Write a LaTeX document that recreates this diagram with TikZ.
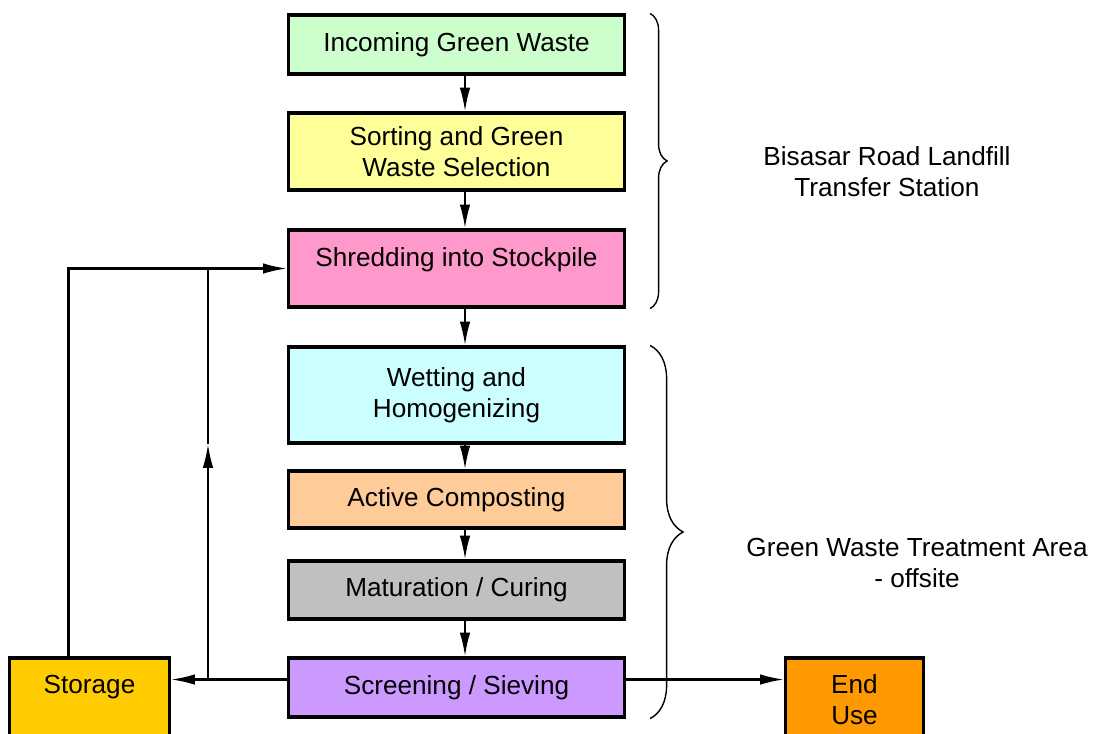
\documentclass[tikz,border=0pt]{standalone}
\usepackage{fontspec}
\setmainfont{Liberation Sans}
\usetikzlibrary{arrows.meta,calc,decorations.pathreplacing}
\tikzset{>={Latex[length=17pt,width=7.5pt]}}
\definecolor{cIncoming}{HTML}{CCFFCC}
\definecolor{cSorting}{HTML}{FFFF99}
\definecolor{cShred}{HTML}{FF99CC}
\definecolor{cWet}{HTML}{CCFFFF}
\definecolor{cActive}{HTML}{FFCC99}
\definecolor{cMature}{HTML}{C0C0C0}
\definecolor{cScreen}{HTML}{CC99FF}
\definecolor{cStorage}{HTML}{FFCC00}
\definecolor{cEnd}{HTML}{FF9900}
\tikzstyle{stage}=[rectangle,draw=black,line width=2.2pt,minimum width=8.4cm,align=center,font=\fontsize{18.6}{22}\selectfont]
\tikzstyle{flow}=[->,line width=1.5pt]
\tikzstyle{group}=[decorate,line width=1pt]
\tikzstyle{note}=[align=center,font=\fontsize{18.6}{22}\selectfont]

\begin{document}
\begin{tikzpicture}[x=0.025cm,y=-0.025cm]
	\def \u {0.025cm}
	\def \colx {456.5}
	\def \arrx {8.5}
	\useasboundingbox (0,0) rectangle (1098,733);
	\clip (0,0) rectangle (1098,733);
	
	% main column
	\node[stage,fill=cIncoming,minimum height=59*\u] (incoming) at (\colx,44.5) {Incoming Green Waste};
	\node[stage,fill=cSorting,minimum height=77*\u] (sorting) at (\colx,151.5) {Sorting and Green\\Waste Selection};
	\node[stage,fill=cShred,text depth=17pt,minimum height=77*\u] (shred) at (\colx,268.5) {Shredding into Stockpile};
	\node[stage,fill=cWet,minimum height=96*\u] (wet) at (\colx,395) {Wetting and\\Homogenizing};
	\node[stage,fill=cActive,minimum height=57*\u] (active) at (\colx,499.5) {Active Composting};
	\node[stage,fill=cMature,minimum height=58*\u] (mature) at (\colx,590) {Maturation / Curing};
	\node[stage,fill=cScreen,minimum height=59*\u] (screen) at (\colx,687.5) {Screening / Sieving};
	
	% outlets
	\node[stage,fill=cStorage,text depth=22pt,minimum width=160*\u,minimum height=83*\u] (storage) at (89.5,699.5) {Storage};
	\node[stage,fill=cEnd,minimum width=138*\u,minimum height=83*\u] (enduse) at (854.5,699.5) {End\\Use};
	
	% downward flow
	\draw[flow] ([xshift=\arrx*\u]incoming.south) -- ([xshift=\arrx*\u]sorting.north);
	\draw[flow] ([xshift=\arrx*\u]sorting.south) -- ([xshift=\arrx*\u]shred.north);
	\draw[flow] ([xshift=\arrx*\u]shred.south) -- ([xshift=\arrx*\u]wet.north);
	\draw[flow] ([xshift=\arrx*\u]wet.south) -- ([xshift=\arrx*\u]active.north);
	\draw[flow] ([xshift=\arrx*\u]active.south) -- ([xshift=\arrx*\u]mature.north);
	\draw[flow] ([xshift=\arrx*\u]mature.south) -- ([xshift=\arrx*\u]screen.north);
	
	% split after screening
	\coordinate (splitw) at ([yshift=8*\u]screen.west);
	\coordinate (splite) at ([yshift=8*\u]screen.east);
	\draw[flow] (splitw) -- (splitw -| storage.east);
	\draw[flow] (splite) -- (splite -| enduse.west);
	
	% return to shredding
	\coordinate (retbot) at (208,679);
	\coordinate (retmid) at (208,444);
	\draw[flow] (retbot) -- (retmid);
	\draw[line width=1.5pt] (retmid) -- (retmid |- shred.west);
	\draw[flow] ([xshift=-21*\u]storage.north) |- (shred.west);
	
	% braces
	\coordinate (b1top) at ([xshift=24*\u]incoming.north east);
	\coordinate (b1bot) at ([xshift=24*\u]shred.south east);
	\coordinate (b2top) at ([xshift=24*\u]wet.north east);
	\coordinate (b2bot) at ([xshift=24*\u]screen.south east);
	\draw[group,decoration={brace,amplitude=17*\u}] (b1top) -- (b1bot);
	\draw[group,decoration={brace,amplitude=33*\u}] (b2top) -- (b2bot);
	
	\node[note] (transfer) at (887,172) {Bisasar Road Landfill\\Transfer Station};
	\node[note] (treatment) at (917,563) {Green Waste Treatment Area\\- offsite};
\end{tikzpicture}
\end{document}
